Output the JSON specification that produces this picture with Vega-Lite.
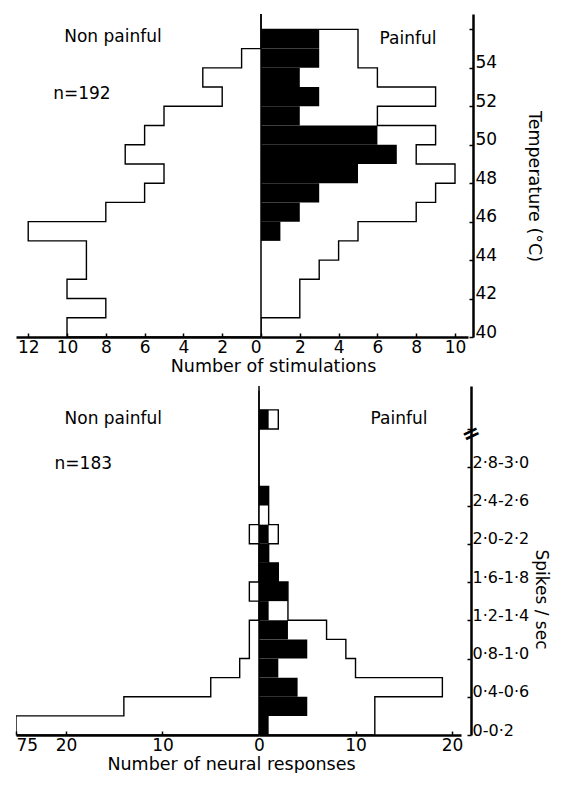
{
  "$schema": "https://vega.github.io/schema/vega-lite/v6.json",
  "padding": {"left": 15, "top": 10, "right": 12, "bottom": 0},
  "background": "white",
  "datasets": {
    "temp": [
      {"lo": 39, "hi": 40, "nonpainful": 0, "painful": 0, "painful_black": 0},
      {"lo": 40, "hi": 41, "nonpainful": 10, "painful": 0, "painful_black": 0},
      {"lo": 41, "hi": 42, "nonpainful": 8, "painful": 2, "painful_black": 0},
      {"lo": 42, "hi": 43, "nonpainful": 10, "painful": 2, "painful_black": 0},
      {"lo": 43, "hi": 44, "nonpainful": 9, "painful": 3, "painful_black": 0},
      {"lo": 44, "hi": 45, "nonpainful": 9, "painful": 4, "painful_black": 0},
      {"lo": 45, "hi": 46, "nonpainful": 12, "painful": 5, "painful_black": 1},
      {"lo": 46, "hi": 47, "nonpainful": 8, "painful": 8, "painful_black": 2},
      {"lo": 47, "hi": 48, "nonpainful": 6, "painful": 9, "painful_black": 3},
      {"lo": 48, "hi": 49, "nonpainful": 5, "painful": 10, "painful_black": 5},
      {"lo": 49, "hi": 50, "nonpainful": 7, "painful": 8, "painful_black": 7},
      {"lo": 50, "hi": 51, "nonpainful": 6, "painful": 9, "painful_black": 6},
      {"lo": 51, "hi": 52, "nonpainful": 5, "painful": 6, "painful_black": 2},
      {"lo": 52, "hi": 53, "nonpainful": 2, "painful": 9, "painful_black": 3},
      {"lo": 53, "hi": 54, "nonpainful": 3, "painful": 6, "painful_black": 2},
      {"lo": 54, "hi": 55, "nonpainful": 1, "painful": 5, "painful_black": 3},
      {"lo": 55, "hi": 56, "nonpainful": 0, "painful": 5, "painful_black": 3},
      {"lo": 56, "hi": 57, "nonpainful": 0, "painful": 0, "painful_black": 0}
    ],
    "spikes": [
      {"lo": -0.2, "hi": 0, "nonpainful": 0, "painful": 0, "painful_black": 0},
      {"lo": 0, "hi": 0.2, "nonpainful": 75, "painful": 12, "painful_black": 1},
      {"lo": 0.2, "hi": 0.4, "nonpainful": 14, "painful": 12, "painful_black": 5},
      {"lo": 0.4, "hi": 0.6, "nonpainful": 5, "painful": 19, "painful_black": 4},
      {"lo": 0.6, "hi": 0.8, "nonpainful": 2, "painful": 10, "painful_black": 2},
      {"lo": 0.8, "hi": 1.0, "nonpainful": 1, "painful": 9, "painful_black": 5},
      {"lo": 1.0, "hi": 1.2, "nonpainful": 1, "painful": 7, "painful_black": 3},
      {"lo": 1.2, "hi": 1.4, "nonpainful": 0, "painful": 3, "painful_black": 1},
      {"lo": 1.4, "hi": 1.6, "nonpainful": 1, "painful": 3, "painful_black": 3},
      {"lo": 1.6, "hi": 1.8, "nonpainful": 0, "painful": 2, "painful_black": 2},
      {"lo": 1.8, "hi": 2.0, "nonpainful": 0, "painful": 1, "painful_black": 1},
      {"lo": 2.0, "hi": 2.2, "nonpainful": 1, "painful": 2, "painful_black": 1},
      {"lo": 2.2, "hi": 2.4, "nonpainful": 0, "painful": 1, "painful_black": 0},
      {"lo": 2.4, "hi": 2.6, "nonpainful": 0, "painful": 1, "painful_black": 1},
      {"lo": 2.6, "hi": 2.8, "nonpainful": 0, "painful": 0, "painful_black": 0},
      {"lo": 2.8, "hi": 3.0, "nonpainful": 0, "painful": 0, "painful_black": 0},
      {"lo": 3.0, "hi": 3.2, "nonpainful": 0, "painful": 0, "painful_black": 0},
      {"lo": 3.2, "hi": 3.4, "nonpainful": 0, "painful": 2, "painful_black": 1},
      {"lo": 3.4, "hi": 3.6, "nonpainful": 0, "painful": 0, "painful_black": 0}
    ],
    "one": [{}]
  },
  "vconcat": [
    {
      "hconcat": [
        {
          "width": 245,
          "height": 323,
          "layer": [
            {
              "data": {"name": "temp"},
              "mark": {"type": "line", "interpolate": "step-before", "color": "black", "strokeWidth": 1.4, "clip": true},
              "encoding": {
                "x": {"field": "nonpainful", "type": "quantitative",
                  "scale": {"domain": [0, 12.63], "reverse": true, "nice": false, "zero": false},
                  "axis": {"values": [0, 2, 4, 6, 8, 10, 12], "title": "Number of stimulations", "titleX": 257}},
                "y": {"field": "hi", "type": "quantitative",
                  "scale": {"domain": [40, 56.8], "nice": false, "zero": false}, "axis": null},
                "order": {"field": "hi", "sort": "descending"}
              }
            },
            {
              "data": {"name": "one"},
              "mark": {"type": "text", "text": "Non painful", "font": "DejaVu Sans", "fontSize": 17, "align": "center", "baseline": "middle"},
              "encoding": {"x": {"datum": 7.63}, "y": {"datum": 55.6}}
            },
            {
              "data": {"name": "one"},
              "mark": {"type": "text", "text": "n=192", "font": "DejaVu Sans", "fontSize": 17, "align": "center", "baseline": "middle"},
              "encoding": {"x": {"datum": 9.23}, "y": {"datum": 52.64}}
            }
          ]
        },
        {
          "width": 207,
          "height": 323,
          "layer": [
            {
              "data": {"name": "temp"},
              "mark": {"type": "rect", "color": "black"},
              "encoding": {
                "x": {"field": "painful_black", "type": "quantitative",
                  "scale": {"domain": [0, 10.67], "nice": false, "zero": false},
                  "axis": {"values": [2, 4, 6, 8, 10], "title": null}},
                "x2": {"datum": 0},
                "y": {"field": "lo", "type": "quantitative",
                  "scale": {"domain": [40, 56.8], "nice": false, "zero": false},
                  "axis": {"orient": "right", "offset": 5, "values": [40,41,42,43,44,45,46,47,48,49,50,51,52,53,54,55,56],
                    "labelExpr": "datum.value % 2 == 0 && datum.value <= 54 ? datum.value : ''",
                    "labelBaseline": "alphabetic", "title": "Temperature (°C)", "titleY": 172, "titlePadding": 28}},
                "y2": {"field": "hi"}
              }
            },
            {
              "data": {"name": "temp"},
              "mark": {"type": "line", "interpolate": "step-before", "color": "black", "strokeWidth": 1.4, "clip": true},
              "encoding": {
                "x": {"field": "painful", "type": "quantitative"},
                "y": {"field": "hi", "type": "quantitative"},
                "order": {"field": "hi", "sort": "descending"}
              }
            },
            {
              "data": {"name": "one"},
              "mark": {"type": "rule", "color": "black", "strokeWidth": 1.5},
              "encoding": {"x": {"datum": 0}}
            },
            {
              "data": {"name": "one"},
              "mark": {"type": "text", "text": "Painful", "font": "DejaVu Sans", "fontSize": 17, "align": "center", "baseline": "middle"},
              "encoding": {"x": {"datum": 7.58}, "y": {"datum": 55.5}}
            }
          ]
        }
      ],
      "spacing": 0,
      "bounds": "flush"
    },
    {
      "hconcat": [
        {
          "width": 243,
          "height": 349,
          "layer": [
            {
              "data": {"name": "spikes"},
              "mark": {"type": "line", "interpolate": "step-before", "color": "black", "strokeWidth": 1.4, "clip": true},
              "encoding": {
                "x": {"field": "nonpainful", "type": "quantitative",
                  "scale": {"domain": [0, 23, 75], "range": [243, 21, 0], "nice": false, "zero": false},
                  "axis": {"values": [0, 10, 20, 75], "title": "Number of neural responses", "titleX": 215,
                    "labelAlign": {"condition": {"test": "datum.value == 75", "value": "left"}, "value": "center"}}},
                "y": {"field": "hi", "type": "quantitative",
                  "scale": {"domain": [0, 3.65], "nice": false, "zero": false}, "axis": null},
                "order": {"field": "hi", "sort": "descending"}
              }
            },
            {
              "data": {"name": "one"},
              "mark": {"type": "text", "text": "Non painful", "font": "DejaVu Sans", "fontSize": 17, "align": "center", "baseline": "middle"},
              "encoding": {"x": {"datum": 15.1}, "y": {"datum": 3.31}}
            },
            {
              "data": {"name": "one"},
              "mark": {"type": "text", "text": "n=183", "font": "DejaVu Sans", "fontSize": 17, "align": "center", "baseline": "middle"},
              "encoding": {"x": {"datum": 18.2}, "y": {"datum": 2.83}}
            }
          ]
        },
        {
          "width": 202,
          "height": 349,
          "layer": [
            {
              "data": {"name": "spikes"},
              "mark": {"type": "rect", "color": "black"},
              "encoding": {
                "x": {"field": "painful_black", "type": "quantitative",
                  "scale": {"domain": [0, 20.93], "nice": false, "zero": false},
                  "axis": {"values": [10, 20], "title": null}},
                "x2": {"datum": 0},
                "y": {"field": "lo", "type": "quantitative",
                  "scale": {"domain": [0, 3.65], "nice": false, "zero": false},
                  "axis": {"orient": "right", "offset": 10, "labelFontSize": 16, "labelPadding": 5,
                    "values": [0, 0.2, 0.4, 0.6, 0.8, 1.0, 1.2, 1.4, 1.6, 1.8, 2.0, 2.2, 2.4, 2.6, 2.8, 3.0, 3.2, 3.4],
                    "labelExpr": "datum.value == 0 ? '0-0·2' : (datum.value < 2.9 && round(datum.value * 10) % 4 == 0 ? replace(format(datum.value, '.1f'), '.', '·') + '-' + replace(format(datum.value + 0.2, '.1f'), '.', '·') : '')",
                    "labelBaseline": "alphabetic", "title": "Spikes / sec", "titleFontSize": 17, "titleY": 213, "titlePadding": 3}},
                "y2": {"field": "hi"}
              }
            },
            {
              "data": {"name": "spikes"},
              "mark": {"type": "line", "interpolate": "step-before", "color": "black", "strokeWidth": 1.4, "clip": true},
              "encoding": {
                "x": {"field": "painful", "type": "quantitative"},
                "y": {"field": "hi", "type": "quantitative"},
                "order": {"field": "hi", "sort": "descending"}
              }
            },
            {
              "data": {"name": "one"},
              "mark": {"type": "rule", "color": "black", "strokeWidth": 1.5},
              "encoding": {"x": {"datum": 0}}
            },
            {
              "data": {"name": "one"},
              "mark": {"type": "text", "text": "Painful", "font": "DejaVu Sans", "fontSize": 17, "align": "center", "baseline": "middle"},
              "encoding": {"x": {"datum": 14.5}, "y": {"datum": 3.3}}
            },
            {
              "data": {"name": "one"},
              "mark": {"type": "text", "text": "=", "font": "DejaVu Sans", "fontSize": 22, "fontWeight": "bold", "angle": 335, "align": "center", "baseline": "middle"},
              "encoding": {"x": {"datum": 21.97}, "y": {"datum": 3.15}}
            }
          ]
        }
      ],
      "spacing": 0,
      "bounds": "flush"
    }
  ],
  "spacing": 10,
  "config": {
    "view": {"stroke": null},
    "axis": {
      "grid": false,
      "domainColor": "black",
      "domainWidth": 2.5,
      "tickColor": "black",
      "tickWidth": 1.5,
      "tickSize": -4,
      "labelPadding": 6,
      "labelFont": "DejaVu Sans",
      "labelFontSize": 17,
      "labelColor": "black",
      "titleFont": "DejaVu Sans",
      "titleFontSize": 17.5,
      "titleFontWeight": "normal",
      "titleColor": "black",
      "titlePadding": 2
    }
  }
}
